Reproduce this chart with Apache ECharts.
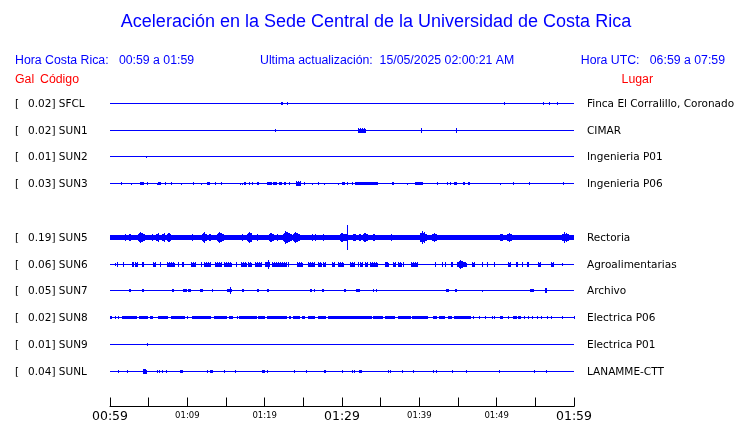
<!DOCTYPE html>
<html>
<head>
<meta charset="utf-8">
<script src="https://cdn.jsdelivr.net/npm/echarts@6/dist/echarts.min.js"></script>
<style>html,body{margin:0;padding:0;background:#fff}#c{width:740px;height:423px}</style>
</head>
<body>
<div id="c"></div>
<script>
// ---------- DATA ----------
const titleText = 'Aceleración en la Sede Central de la Universidad de Costa Rica';
const horaCR = 'Hora Costa Rica:   00:59 a 01:59';
const actualizacion = 'Ultima actualización:  15/05/2025 02:00:21 AM';
const horaUTC = 'Hora UTC:   06:59 a 07:59';
// station slots (null = empty slot, SUN4 not shown)
const slots = ['SFCL', 'SUN1', 'SUN2', 'SUN3', null, 'SUN5', 'SUN6', 'SUN7', 'SUN8', 'SUN9', 'SUNL'];
const peakGal = ['0.02', '0.02', '0.01', '0.03', null, '0.19', '0.06', '0.05', '0.02', '0.01', '0.04'];
const places = ['Finca El Corralillo, Coronado', 'CIMAR', 'Ingenieria P01', 'Ingenieria P06', null,
  'Rectoria', 'Agroalimentarias', 'Archivo', 'Electrica P06', 'Electrica P01', 'LANAMME-CTT'];
// minutes after 00:59, tick labels every 5 minutes
const tickLabels = ['00:59', '01:04', '01:09', '01:14', '01:19', '01:24', '01:29', '01:34', '01:39', '01:44', '01:49', '01:54', '01:59'];
// bursts: [start min, end min, half amplitude (Gal)]
const sfcl = [[22.1, 22.4, 0.02], [22.9, 23.0, 0.02], [51.0, 51.0, 0.02], [56.0, 56.0, 0.015], [56.8, 56.8, 0.02], [57.8, 57.8, 0.015]];
const sun1 = [[21.3, 21.3, 0.01], [32.1, 33.1, 0.02], [40.2, 40.3, 0.02], [44.7, 44.9, 0.02]];
const sun2 = [[4.7, 4.7, 0.01]];
const sun3 = [[1.46, 1.46, 0.02], [2.68, 2.68, 0.01], [3.88, 4.44, 0.02], [4.75, 4.75, 0.02], [6.04, 6.04, 0.01], [6.25, 6.6, 0.02],
  [7.11, 7.11, 0.02], [7.85, 7.85, 0.02], [9.14, 9.14, 0.01], [10.7, 10.8, 0.02], [11.73, 11.73, 0.01], [12.58, 12.89, 0.02],
  [13.62, 13.62, 0.02], [14.32, 14.32, 0.02], [16.81, 16.81, 0.01], [17.03, 17.03, 0.01], [17.33, 17.55, 0.02], [17.97, 17.97, 0.02],
  [18.32, 18.32, 0.02], [18.97, 19.31, 0.015], [20.34, 20.91, 0.02], [21.12, 21.56, 0.02], [21.85, 22.2, 0.02], [22.5, 22.76, 0.02],
  [23.19, 23.19, 0.02], [24.05, 24.7, 0.03], [25.09, 25.09, 0.02], [26.08, 26.08, 0.01], [26.94, 26.94, 0.02], [27.67, 27.67, 0.01],
  [29.52, 29.52, 0.01], [30.04, 30.39, 0.02], [30.61, 30.61, 0.02], [31.26, 31.46, 0.015], [31.68, 34.7, 0.02], [36.43, 36.77, 0.02],
  [38.45, 38.45, 0.01], [39.48, 40.44, 0.02], [42.25, 42.25, 0.02], [43.54, 43.54, 0.02], [43.97, 43.97, 0.02], [44.52, 44.82, 0.02],
  [45.61, 45.91, 0.02], [46.33, 46.55, 0.02], [50.43, 50.43, 0.01], [52.15, 52.15, 0.02], [54.22, 54.22, 0.02], [58.62, 58.62, 0.02]];
const sun5 = [[0, 60, 0.028], [1.94, 2.29, 0.05], [2.37, 2.81, 0.05], [3.66, 4.53, 0.085], [5.39, 5.82, 0.05], [5.91, 6.6, 0.065],
  [6.69, 7.33, 0.065], [7.33, 7.98, 0.07], [9.27, 9.27, 0.035], [10.57, 11.0, 0.05], [11.86, 12.71, 0.08], [12.71, 13.36, 0.05],
  [13.8, 14.78, 0.08], [17.03, 17.46, 0.05], [17.68, 18.53, 0.085], [18.97, 18.97, 0.05], [20.56, 21.25, 0.08], [21.56, 21.56, 0.04],
  [22.41, 23.5, 0.095], [23.7, 24.57, 0.08], [26.08, 26.29, 0.04], [26.51, 26.94, 0.05], [27.58, 27.58, 0.04], [29.74, 30.39, 0.08],
  [30.39, 31.03, 0.065], [30.69, 30.69, 0.19], [31.38, 31.9, 0.055], [32.1, 32.54, 0.05], [32.76, 33.4, 0.08], [33.84, 34.7, 0.055],
  [36.12, 36.85, 0.04], [40.09, 40.95, 0.095], [41.6, 42.45, 0.07], [43.54, 43.54, 0.035], [45.17, 45.61, 0.04], [46.13, 47.85, 0.032],
  [48.07, 48.5, 0.032], [50.43, 50.78, 0.065], [51.3, 52.15, 0.07], [53.67, 53.89, 0.035], [55.18, 56.47, 0.032], [58.41, 59.48, 0.07],
  [59.48, 60, 0.04]];
const sun6 = [[0.65, 0.65, 0.01], [0.87, 1.07, 0.02], [1.72, 1.72, 0.02], [2.88, 3.14, 0.02], [3.23, 3.58, 0.02], [4.18, 4.44, 0.02],
  [5.6, 5.91, 0.02], [6.47, 6.47, 0.02], [7.33, 8.41, 0.02], [8.83, 8.83, 0.02], [9.35, 9.61, 0.02], [10.47, 11.08, 0.02],
  [11.77, 11.77, 0.02], [12.19, 13.06, 0.02], [13.58, 14.52, 0.02], [14.78, 15.82, 0.02], [16.25, 16.25, 0.02], [16.94, 17.68, 0.02],
  [17.88, 18.32, 0.02], [18.75, 19.62, 0.02], [20.04, 20.69, 0.025], [20.43, 20.43, 0.06], [20.91, 22.85, 0.02], [23.06, 23.06, 0.02],
  [24.14, 25.0, 0.02], [25.64, 26.51, 0.02], [26.94, 27.38, 0.02], [27.58, 27.89, 0.02], [28.67, 29.1, 0.02], [29.52, 30.26, 0.02],
  [31.04, 31.68, 0.02], [32.11, 32.11, 0.02], [32.33, 32.76, 0.02], [32.98, 33.4, 0.02], [33.62, 34.7, 0.02], [35.56, 36.12, 0.03],
  [36.56, 36.98, 0.02], [37.28, 37.72, 0.02], [37.93, 37.93, 0.02], [38.92, 39.87, 0.02], [42.03, 42.03, 0.02], [42.89, 42.89, 0.02],
  [43.32, 43.32, 0.02], [44.06, 44.4, 0.02], [44.83, 46.13, 0.04], [45.3, 45.6, 0.07], [46.77, 47.2, 0.02], [48.07, 48.07, 0.02],
  [48.71, 48.92, 0.02], [49.66, 49.66, 0.02], [51.51, 51.82, 0.02], [52.5, 52.8, 0.02], [53.24, 53.37, 0.02], [53.96, 54.14, 0.02],
  [55.39, 55.7, 0.02], [56.99, 57.42, 0.02], [58.41, 58.41, 0.01]];
const sun7 = [[2.46, 2.72, 0.02], [4.18, 4.36, 0.02], [7.98, 7.98, 0.02], [8.19, 8.32, 0.02], [9.48, 9.92, 0.02], [10.13, 10.47, 0.02],
  [11.64, 11.99, 0.02], [13.15, 13.15, 0.02], [15.17, 15.74, 0.025], [15.56, 15.56, 0.055], [17.11, 17.33, 0.02], [19.05, 19.23, 0.02],
  [20.26, 20.52, 0.02], [25.86, 26.08, 0.02], [26.42, 26.42, 0.02], [27.45, 27.71, 0.02], [30.26, 30.48, 0.02], [31.81, 32.33, 0.02],
  [34.05, 34.05, 0.02], [34.4, 34.57, 0.02], [43.45, 43.8, 0.02], [44.61, 44.91, 0.02], [48.07, 48.07, 0.01], [54.31, 54.83, 0.02],
  [56.21, 56.47, 0.04]];
const sun8 = [[0, 0.3, 0.015], [0.65, 0.65, 0.02], [1.0, 1.0, 0.02], [1.51, 3.45, 0.02], [3.75, 4.91, 0.02], [5.17, 5.6, 0.02],
  [6.17, 7.46, 0.02], [7.89, 9.7, 0.02], [9.92, 9.92, 0.02], [10.57, 13.06, 0.02], [13.49, 15.09, 0.02], [15.39, 15.87, 0.02],
  [16.38, 16.38, 0.02], [16.72, 18.97, 0.02], [19.1, 20.04, 0.02], [20.26, 22.85, 0.02], [23.15, 23.41, 0.02], [23.7, 24.57, 0.02],
  [24.87, 25.22, 0.02], [25.57, 26.51, 0.02], [26.86, 27.89, 0.02], [28.15, 30.61, 0.02], [30.69, 33.84, 0.02], [33.97, 35.34, 0.02],
  [35.56, 36.85, 0.02], [37.28, 38.88, 0.02], [39.01, 41.16, 0.02], [41.81, 42.25, 0.02], [42.58, 43.32, 0.02], [43.75, 44.19, 0.02],
  [44.48, 46.64, 0.02], [46.9, 46.9, 0.02], [47.76, 47.76, 0.02], [48.49, 48.49, 0.02], [49.36, 49.36, 0.02], [49.7, 49.7, 0.02],
  [50.43, 50.86, 0.02], [51.51, 51.51, 0.02], [52.15, 52.59, 0.02], [52.8, 53.15, 0.02], [53.54, 53.54, 0.02], [54.09, 54.09, 0.02],
  [54.53, 54.74, 0.02], [55.18, 55.18, 0.02], [55.74, 55.74, 0.02], [56.47, 56.47, 0.02], [56.99, 56.99, 0.02], [58.41, 58.62, 0.02],
  [60, 60, 0.02]];
const sun9 = [[4.83, 4.83, 0.01]];
const sunl = [[1.07, 1.07, 0.02], [2.16, 2.2, 0.02], [4.23, 4.75, 0.04], [6.04, 6.04, 0.02], [6.38, 6.38, 0.02], [6.76, 6.76, 0.02],
  [7.2, 7.2, 0.02], [9.05, 9.4, 0.02], [12.58, 12.58, 0.02], [12.93, 13.28, 0.02], [14.74, 14.74, 0.02], [16.16, 16.16, 0.02],
  [19.69, 20.04, 0.02], [20.26, 20.26, 0.02], [23.83, 23.83, 0.02], [25.31, 25.31, 0.02], [27.67, 27.93, 0.02], [30.04, 30.04, 0.02],
  [31.33, 31.33, 0.02], [31.55, 31.55, 0.02], [32.24, 32.55, 0.02], [35.99, 35.99, 0.02], [36.21, 36.21, 0.02], [37.8, 37.8, 0.01],
  [39.14, 39.35, 0.02], [41.81, 41.81, 0.02], [42.16, 42.16, 0.02], [44.27, 44.27, 0.02], [46.04, 46.21, 0.02], [50.3, 50.3, 0.02],
  [54.87, 54.87, 0.02], [56.38, 56.38, 0.02]];
const burstsBySlot = [sfcl, sun1, sun2, sun3, null, sun5, sun6, sun7, sun8, sun9, sunl];

// ---------- CHART ----------
const BLUE = '#0000ff';
const ROWS_PER_GAL = 63 / 27; // display gain
const chart = echarts.init(document.getElementById('c'), null, {renderer: 'canvas'});

const items = [];
burstsBySlot.forEach((list, row) => {
  if (!list) return;
  items.push([0, 60, 0, row, 1]); // baseline
  list.forEach(b => items.push([b[0], b[1], b[2], row, 0]));
});

function renderItem(params, api) {
  const row = api.value(3);
  const isBase = api.value(4) === 1;
  const a = api.value(2) * ROWS_PER_GAL;
  const pc = api.coord([api.value(0), row]);
  const p1 = api.coord([api.value(1), row]);
  const top = api.coord([api.value(0), row - a]);
  const yc = Math.round(pc[1]);
  const x0 = Math.round(pc[0]);
  const w = Math.max(1, Math.round(p1[0]) - x0);
  const style = {fill: BLUE};
  if (isBase) {
    return {type: 'rect', shape: {x: x0, y: yc, width: w, height: 1}, style: style};
  }
  const h = Math.max(0.5, yc - top[1]);
  const full = api.value(0) === 0 && api.value(1) === 60;
  const col = (x, cw, hh) => {
    const y0 = Math.round(yc - hh);
    const y1 = Math.round(yc + hh) + 1;
    return {type: 'rect', shape: {x: x, y: y0, width: cw, height: Math.max(1, y1 - y0)}, style: style};
  };
  if (w <= 2 || h <= 1.6 || full) return col(x0, w, h);
  // burst: per-pixel column envelope, rising fast and decaying slower
  const hb = Math.min(h, Math.max(1.5, h * 0.4));
  const children = [];
  const peakAt = 0.3;
  for (let j = 0; j < w; j++) {
    const u = (j + 0.5) / w;
    const t = u < peakAt ? u / peakAt : (1 - u) / (1 - peakAt);
    const env = hb + (h - hb) * Math.pow(Math.max(0, t), 0.8);
    // alternate columns give a slightly jagged, sampled look
    const hh = (j % 2 === 0) ? env : Math.max(hb, env * 0.8);
    children.push(col(x0 + j, 1, hh));
  }
  return {type: 'group', children: children};
}

const option = {
  animation: false,
  backgroundColor: '#fff',
  grid: {left: 110, right: 166, top: 76, bottom: 14, containLabel: false},
  xAxis: {
    type: 'value', min: 0, max: 60, interval: 5,
    axisLine: {show: true, onZero: false, lineStyle: {color: '#000', width: 1}},
    axisTick: {show: true, inside: true, length: 9, lineStyle: {color: '#000', width: 1}},
    splitLine: {show: false},
    axisLabel: {
      margin: 3, showMinLabel: true, showMaxLabel: true,
      formatter: v => {
        const i = Math.round(v / 5);
        if (i % 2 !== 0) return '';
        return (i % 6 === 0 ? '{big|' : '{small|') + tickLabels[i] + '}';
      },
      rich: {
        big: {fontFamily: 'DejaVu Sans', fontSize: 12.5, color: '#000', lineHeight: 14},
        small: {fontFamily: 'DejaVu Sans', fontSize: 8.5, color: '#000', lineHeight: 12, padding: [1, 0, 0, 0]}
      }
    }
  },
  yAxis: {type: 'value', inverse: true, min: -1, max: 34 / 3, show: false},
  series: [{
    type: 'custom',
    renderItem: renderItem,
    encode: {x: [0, 1], y: 3},
    data: items,
    clip: false,
    silent: true
  }]
};
chart.setOption(option);

const g = [];
const txt = (x, y, text, fill, size, family, align) => ({
  type: 'text', x: x, y: y, silent: true,
  style: {text: text, fill: fill, fontSize: size, fontFamily: family, align: align || 'left', verticalAlign: 'middle'}
});
g.push(txt(376, 22.5, titleText, BLUE, 18, 'Liberation Sans', 'center'));
g.push(txt(15, 61, horaCR, BLUE, 12.3, 'Liberation Sans'));
g.push(txt(260, 61, actualizacion, BLUE, 12.3, 'Liberation Sans'));
g.push(txt(725, 61, horaUTC, BLUE, 12.3, 'Liberation Sans', 'right'));
g.push(txt(15, 80, 'Gal', '#ff0000', 12.3, 'Liberation Sans'));
g.push(txt(40, 80, 'Código', '#ff0000', 12.3, 'Liberation Sans'));
g.push(txt(653, 80, 'Lugar', '#ff0000', 12.3, 'Liberation Sans', 'right'));
slots.forEach((code, row) => {
  if (!code) return;
  const y = Math.round(chart.convertToPixel({yAxisIndex: 0}, row)) + 1;
  g.push(txt(15, y, '[', '#000', 10.5, 'DejaVu Sans'));
  g.push(txt(28, y, peakGal[row] + '] ' + code, '#000', 10.5, 'DejaVu Sans'));
  g.push(txt(587, y, places[row], '#000', 10.5, 'DejaVu Sans'));
});
chart.setOption({graphic: g});
</script>
</body>
</html>
